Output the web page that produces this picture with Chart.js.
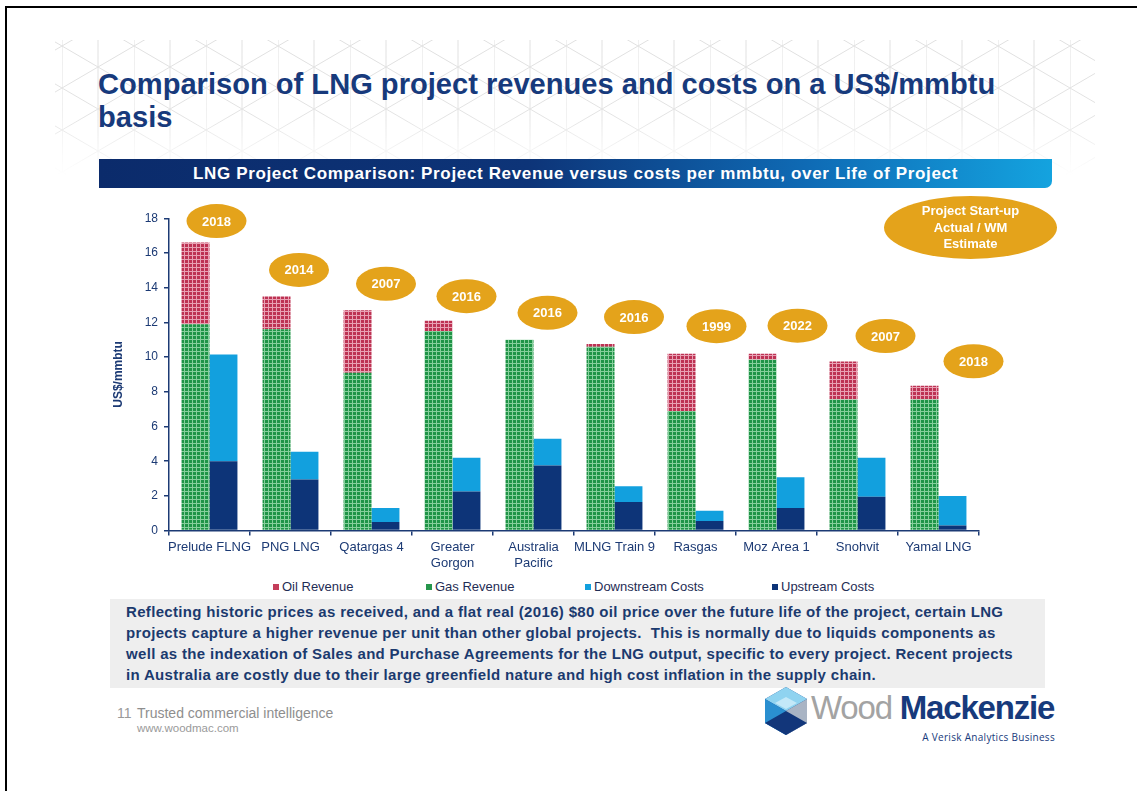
<!DOCTYPE html>
<html>
<head>
<meta charset="utf-8">
<script src="https://cdn.jsdelivr.net/npm/chart.js@4.4.0/dist/chart.umd.min.js"></script>
<style>
  html, body { margin:0; padding:0; background:#fff; }
  body { width:1137px; height:791px; position:relative; overflow:hidden; font-family:"Liberation Sans", Arial, sans-serif; }
  .frame { position:absolute; left:5px; top:6px; width:1200px; height:900px; border-top:2px solid #000; border-left:2px solid #000; }
  .lattice { position:absolute; left:55px; top:40px; width:1040px; height:135px; }
  .title { position:absolute; left:98px; top:68px; font-weight:bold; font-size:29.1px; line-height:33px; color:#173a7c; white-space:nowrap; }
  .banner { position:absolute; left:99px; top:159px; width:953px; height:29px; border-bottom-right-radius:7px;
    background:linear-gradient(90deg,#0b2b6b 0%,#0d3478 45%,#0f6cb6 75%,#14a3df 100%);
    color:#fff; font-weight:bold; font-size:17px; letter-spacing:0.65px; line-height:29px; text-align:center; white-space:nowrap; }
  #chartCanvas { position:absolute; left:100px; top:195px; }
  .key { position:absolute; left:884px; top:196px; width:173px; height:63px; border-radius:50%; background:#e4a31b;
    color:#fff; font-weight:bold; font-size:13px; line-height:16.5px; text-align:center; box-sizing:border-box; padding-top:7px; }
  .lg { position:absolute; top:579px; font-size:13px; color:#1f2d55; line-height:16px; white-space:nowrap; }
  .lg i { display:inline-block; width:6px; height:6px; margin-right:3px; vertical-align:1px; }
  .note { position:absolute; left:110px; top:599px; width:935px; height:89px; background:#eeeeee; }
  .note div { position:absolute; left:16px; font-weight:bold; font-size:15px; letter-spacing:0.33px; color:#1b3a6e; white-space:nowrap; line-height:21px; }
  .foot1 { position:absolute; left:117px; top:705px; font-size:14px; color:#9a9a9a; }
  .foot2 { position:absolute; left:137px; top:705px; font-size:14px; color:#8e8e8e; }
  .foot3 { position:absolute; left:137px; top:722px; font-size:11.5px; color:#9a9a9a; }
  .wm { position:absolute; left:811px; top:688px; font-size:33px; line-height:40px; letter-spacing:-1.2px; white-space:nowrap; }
  .wm .w { color:#a3a3a3; }
  .wm .m { color:#173a7c; font-weight:bold; }
  .verisk { position:absolute; left:880px; width:175px; text-align:right; top:730px; font-size:10px; color:#173a7c; font-family:"Open Sans", sans-serif; letter-spacing:0.3px; }
</style>
</head>
<body>
<div class="frame"></div>
<svg class="lattice" width="1040" height="135">
  <defs>
    <pattern id="iso" x="7" y="6" width="72" height="42" patternUnits="userSpaceOnUse">
      <g stroke="#e0e0e0" stroke-width="1" fill="none">
        <line x1="0" y1="0" x2="0" y2="42"/>
        <line x1="36" y1="0" x2="36" y2="42"/>
        <line x1="0" y1="0" x2="72" y2="42"/>
        <line x1="0" y1="42" x2="72" y2="0"/>
      </g>
    </pattern>
    <linearGradient id="fadeV" x1="0" y1="0" x2="0" y2="1">
      <stop offset="0" stop-color="#fff" stop-opacity="1"/>
      <stop offset="0.55" stop-color="#fff" stop-opacity="0.9"/>
      <stop offset="1" stop-color="#fff" stop-opacity="0"/>
    </linearGradient>
    <mask id="m"><rect x="0" y="0" width="1040" height="135" fill="url(#fadeV)"/></mask>
  </defs>
  <rect x="0" y="0" width="1040" height="135" fill="url(#iso)" mask="url(#m)"/>
</svg>
<div class="title">Comparison of LNG project revenues and costs on a US$/mmbtu<br>basis</div>
<div class="banner">LNG Project Comparison: Project Revenue versus costs per mmbtu, over Life of Project</div>

<canvas id="chartCanvas" width="1000" height="375"></canvas>

<div class="key">Project Start-up<br>Actual / WM<br>Estimate</div>

<div class="lg" style="left:273px"><i style="background:#c43d5a"></i>Oil Revenue</div>
<div class="lg" style="left:426px"><i style="background:#26964c"></i>Gas Revenue</div>
<div class="lg" style="left:585px"><i style="background:#12a0de"></i>Downstream Costs</div>
<div class="lg" style="left:772px"><i style="background:#0d3478"></i>Upstream Costs</div>

<div class="note">
  <div style="top:2px">Reflecting historic prices as received, and a flat real (2016) $80 oil price over the future life of the project, certain LNG</div>
  <div style="top:23px">projects capture a higher revenue per unit than other global projects.&nbsp; This is normally due to liquids components as</div>
  <div style="top:44px">well as the indexation of Sales and Purchase Agreements for the LNG output, specific to every project. Recent projects</div>
  <div style="top:65px">in Australia are costly due to their large greenfield nature and high cost inflation in the supply chain.</div>
</div>

<div class="foot1">11</div>
<div class="foot2">Trusted commercial intelligence</div>
<div class="foot3">www.woodmac.com</div>

<svg style="position:absolute;left:763px;top:686px" width="46" height="50">
  <polygon points="23,1 44,13 44,37 23,49 2,37 2,13" fill="#1b4f9a"/>
  <polygon points="23,1 44,13 23,25 2,13" fill="#8fd3f0"/>
  <polygon points="2,13 23,25 23,49 2,37" fill="#2a8fd0"/>
  <polygon points="44,13 23,25 23,49 44,37" fill="#a9b4c4"/>
  <polygon points="23,25 44,37 23,49 2,37" fill="#12367a"/>
  <polygon points="12,17 23,11 34,17 23,23" fill="#d9f1fb" opacity="0.7"/>
</svg>
<div class="wm"><span class="w">Wood </span><span class="m">Mackenzie</span></div>
<div class="verisk">A Verisk Analytics Business</div>

<script>
// ---- Data ----
const categories = ['Prelude FLNG', 'PNG LNG', 'Qatargas 4', ['Greater', 'Gorgon'], ['Australia', 'Pacific'],
                    'MLNG Train 9', 'Rasgas', 'Moz Area 1', 'Snohvit', 'Yamal LNG'];
const gasRevenue      = [11.9, 11.6, 9.1, 11.5, 11.0, 10.6, 6.9, 9.85, 7.55, 7.55];
const oilRevenue      = [4.7, 1.9, 3.6, 0.6, 0.0, 0.15, 3.3, 0.35, 2.2, 0.8];
const upstreamCosts   = [4.0, 2.95, 0.5, 2.25, 3.75, 1.65, 0.55, 1.3, 1.95, 0.3];
const downstreamCosts = [6.15, 1.6, 0.8, 1.95, 1.55, 0.9, 0.6, 1.78, 2.25, 1.7];
const startYears      = ['2018', '2014', '2007', '2016', '2016', '2016', '1999', '2022', '2007', '2018'];
const yTicks          = [0, 2, 4, 6, 8, 10, 12, 14, 16, 18];

// ---- Layout of the start-up badges (pixel nudges relative to each revenue bar top) ----
const badgeDx   = [7, 8.5, 14.5, 14, 14, 19.5, 21, 21, 28, 35];
const badgeLift = [21.5, 26.5, 26.5, 24.5, 27, 27, 27.5, 28, 25.5, 24.5];

const NAVY = '#1c3a74';
const FONT = '"Liberation Sans", Arial, sans-serif';

function makePattern(base, light) {
  const c = document.createElement('canvas');
  c.width = 4; c.height = 4;
  const g = c.getContext('2d');
  g.fillStyle = base; g.fillRect(0, 0, 4, 4);
  g.fillStyle = light; g.fillRect(0, 0, 4, 1); g.fillRect(0, 0, 1, 4);
  return g.createPattern(c, 'repeat');
}

const badges = {
  id: 'badges',
  afterDatasetsDraw(chart) {
    const {ctx, scales: {x, y}} = chart;
    ctx.save();
    startYears.forEach((yr, i) => {
      const cx = x.getPixelForValue(i) + badgeDx[i];
      const cy = y.getPixelForValue(gasRevenue[i] + oilRevenue[i]) - badgeLift[i];
      ctx.beginPath();
      ctx.ellipse(cx, cy, 30, 17, 0, 0, Math.PI * 2);
      ctx.fillStyle = '#e4a31b';
      ctx.fill();
      ctx.fillStyle = '#ffffff';
      ctx.font = 'bold 13px ' + FONT;
      ctx.textAlign = 'center';
      ctx.textBaseline = 'middle';
      ctx.fillText(yr, cx, cy + 1);
    });
    ctx.restore();
  }
};

new Chart(document.getElementById('chartCanvas'), {
  type: 'bar',
  data: {
    labels: categories,
    datasets: [
      { label: 'Gas Revenue', data: gasRevenue, stack: 'revenue', backgroundColor: makePattern('#1f9447', '#86cf9c') },
      { label: 'Oil Revenue', data: oilRevenue, stack: 'revenue', backgroundColor: makePattern('#bd3253', '#e8a0b3') },
      { label: 'Upstream Costs', data: upstreamCosts, stack: 'costs', backgroundColor: '#0d3478' },
      { label: 'Downstream Costs', data: downstreamCosts, stack: 'costs', backgroundColor: '#12a0de' }
    ]
  },
  options: {
    responsive: false,
    animation: false,
    devicePixelRatio: 1,
    datasets: { bar: { categoryPercentage: 0.69, barPercentage: 1.0, borderWidth: 0 } },
    layout: { padding: { left: 0, right: 121, top: 23.3, bottom: 0 } },
    plugins: { legend: { display: false }, tooltip: { enabled: false } },
    scales: {
      x: {
        stacked: true,
        grid: { offset: true, drawOnChartArea: false, drawTicks: true, tickLength: 5, color: NAVY, lineWidth: 1.5 },
        border: { display: true, color: NAVY, width: 1.5 },
        ticks: { autoSkip: false, maxRotation: 0, minRotation: 0, padding: 4, color: NAVY, font: { family: FONT, size: 13 } },
        afterFit(s) { s.height = 39.4; }
      },
      y: {
        stacked: true,
        min: 0, max: 18,
        afterBuildTicks(s) { s.ticks = yTicks.map(v => ({ value: v })); },
        grid: { drawOnChartArea: false, drawTicks: true, tickLength: 5, color: NAVY, lineWidth: 1.5 },
        border: { display: true, color: NAVY, width: 1.5 },
        ticks: { padding: 6, color: NAVY, font: { family: FONT, size: 12 } },
        title: { display: true, text: 'US$/mmbtu', color: NAVY, font: { family: FONT, size: 12, weight: 'bold' }, padding: { top: 11, bottom: 0 } },
        afterFit(s) { s.width = 69; }
      }
    }
  },
  plugins: [badges]
});
</script>
</body>
</html>
